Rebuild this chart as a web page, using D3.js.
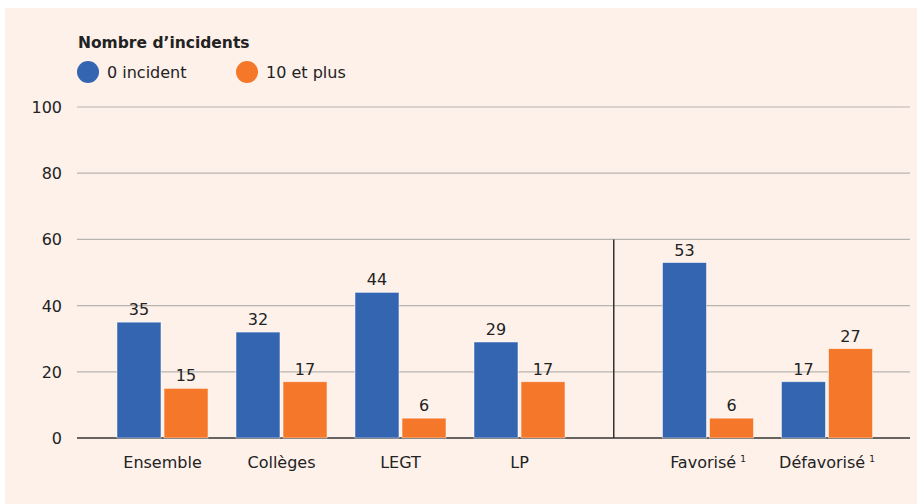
<!DOCTYPE html>
<html>
<head>
<meta charset="utf-8">
<script src="https://cdn.jsdelivr.net/npm/d3@7"></script>
<style>
  body{margin:0;background:#fff;}
  text{font-family:"DejaVu Sans","Noto Sans",sans-serif;}
</style>
</head>
<body>
<script>
const categories = ["Ensemble","Collèges","LEGT","LP","Favorisé","Défavorisé"]
const supers = ["","","","","1","1"]
const series = ["0 incident","10 et plus"]
const zeroIncident = [35,32,44,29,53,17]
const tenPlus = [15,17,6,17,6,27]
const yTicks = [0,20,40,60,80,100]
const legendTitle = "Nombre d’incidents"

const W = 917, H = 504
const colors = ["#3465b1","#f4772a"]
const gap = 69.5 // extra space before the 2nd block (Favorisé / Défavorisé)
const splitAt = 4

const svg = d3.select("body").append("svg")
  .attr("width",W).attr("height",H)

svg.append("rect").attr("x",5).attr("y",8).attr("width",W-5).attr("height",H-8).attr("fill","#fdf1ea")

const y = d3.scaleLinear().domain([0,100]).range([438,107])
const x = d3.scaleBand().domain(categories).range([103,103+6*119]).paddingInner(0).paddingOuter(0)
const sub = d3.scaleBand().domain(series).range([14,119-14]).paddingInner(0.065)
const xpos = c => x(c) + (categories.indexOf(c)>=splitAt ? gap : 0)

// grid
svg.append("g").selectAll("line").data(yTicks).join("line")
  .attr("x1",77).attr("x2",910)
  .attr("y1",d=>y(d)).attr("y2",d=>y(d))
  .attr("stroke",d=>d===0?"#333":"#b9b4b0")
  .attr("stroke-width",d=>d===0?1.3:1.2)

svg.append("g").selectAll("text").data(yTicks).join("text")
  .attr("x",62).attr("y",d=>y(d)+6)
  .attr("text-anchor","end").attr("font-size",16).attr("fill","#222")
  .text(d=>d)

// separator
const sepX = (xpos(categories[splitAt-1])+x.bandwidth() + xpos(categories[splitAt]))/2
svg.append("line").attr("x1",sepX).attr("x2",sepX).attr("y1",y(60)).attr("y2",y(0))
  .attr("stroke","#333").attr("stroke-width",1.5)

const data = categories.map((c,i)=>({c,vals:[zeroIncident[i],tenPlus[i]]}))
const grp = svg.append("g").selectAll("g").data(data).join("g")
  .attr("transform",d=>`translate(${xpos(d.c)},0)`)

grp.selectAll("rect").data(d=>d.vals.map((v,j)=>({v,s:series[j],j}))).join("rect")
  .attr("x",d=>sub(d.s)).attr("width",sub.bandwidth())
  .attr("y",d=>y(d.v)).attr("height",d=>y(0)-y(d.v))
  .attr("fill",d=>colors[d.j])
  .attr("stroke","#fff").attr("stroke-opacity",0.6).attr("stroke-width",0.8)

grp.selectAll("text.v").data(d=>d.vals.map((v,j)=>({v,s:series[j],j}))).join("text")
  .attr("class","v")
  .attr("x",d=>sub(d.s)+sub.bandwidth()/2).attr("y",d=>y(d.v)-7)
  .attr("text-anchor","middle").attr("font-size",16).attr("fill","#222")
  .text(d=>d.v)

// category labels
const lab = grp.append("text")
  .attr("x",x.bandwidth()/2).attr("y",468)
  .attr("text-anchor","middle").attr("font-size",16).attr("fill","#222")
lab.append("tspan").text(d=>d.c)
lab.append("tspan").attr("dx",d=>supers[categories.indexOf(d.c)]?4:0).attr("dy",-6).attr("font-size",9)
  .text(d=>supers[categories.indexOf(d.c)])

// legend
svg.append("text").attr("x",78).attr("y",48).attr("font-size",15.5).attr("font-weight","bold").attr("fill","#222")
  .text(legendTitle)
const legX = [88,247]
const leg = svg.append("g").selectAll("g").data(series).join("g")
  .attr("transform",(d,i)=>`translate(${legX[i]},72)`)
leg.append("circle").attr("r",11).attr("fill",(d,i)=>colors[i])
leg.append("text").attr("x",19).attr("y",6).attr("font-size",16).attr("fill","#222").text(d=>d)
</script>
</body>
</html>
